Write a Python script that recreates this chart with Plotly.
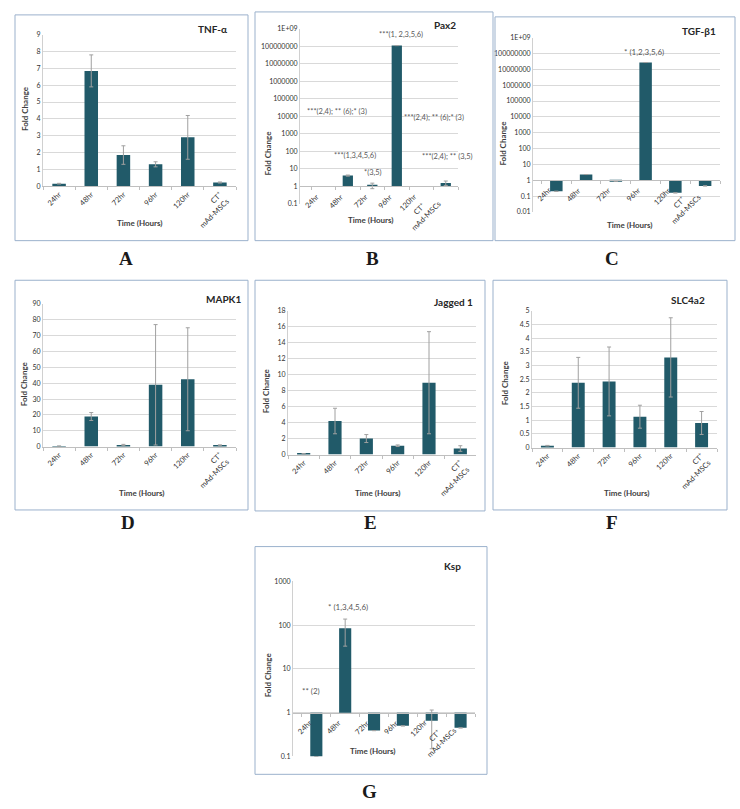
import plotly.graph_objects as go

W, H = 740, 809
BAR = "#215a69"
GRID = "#d9d9d9"
FONT = "Lato, Open Sans, sans-serif"

# categories and values
categories = ["24hr", "48hr", "72hr", "96hr", "120hr", "CT<sup>+</sup><br>mAd-MSCs"]

tnf_a = [0.15, 6.85, 1.85, 1.3, 2.9, 0.22]
tnf_a_err = [0.02, 0.95, 0.55, 0.15, 1.3, 0.03]

pax2 = [None, 4.2, 1.15, 1.1e8, None, 1.6]
pax2_err = [0, 0.3, 0.4, 0, 0, 0.45]

tgf_b1 = [0.2, 2.3, 0.85, 2.7e7, 0.16, 0.44]
tgf_b1_err = [0, 0, 0, 0, 0, 0]

mapk1 = [0.3, 19, 1.0, 39, 42.5, 0.8]
mapk1_err = [0.1, 2.5, 0.4, 38, 32.5, 0.3]

jagged1 = [0.08, 4.2, 2.0, 1.1, 9.0, 0.75]
jagged1_err = [0.03, 1.6, 0.5, 0.1, 6.4, 0.35]

slc4a2 = [0.07, 2.37, 2.42, 1.13, 3.3, 0.9]
slc4a2_err = [0.01, 0.93, 1.26, 0.42, 1.45, 0.42]

ksp = [0.1, 85, 0.39, 0.5, 0.65, 0.45]
ksp_err = [0, 52, 0, 0, 0.5, 0]

# tick labels for the log panels
pax2_ticks = ["0.1", "1", "10", "100", "1000", "10000", "100000", "1000000",
              "10000000", "100000000", "1E+09"]
tgf_ticks = ["0.01", "0.1", "1", "10", "100", "1000", "10000", "100000", "1000000",
             "10000000", "100000000", "1E+09"]
ksp_ticks = ["0.1", "1", "10", "100", "1000"]

# significance notes
pax2_notes = ["***(2,4); ** (6);* (3)", "***(1,3,4,5,6)", "*(3,5)", "***(1, 2,3,5,6)",
              "***(2,4); ** (6);* (3)", "***(2,4); ** (3,5)"]
tgf_notes = ["* (1,2,3,5,6)"]
ksp_notes = ["** (2)", "* (1,3,4,5,6)"]

# layout of each panel in pixels: box, plot area (x0, x1, ytop, ybottom)
panels = [
    dict(name="TNF-α", y=tnf_a, err=tnf_a_err, log=False, rng=[0, 9], dtick=1,
         box=(15, 10, 248, 238), plot=(43, 236, 30, 183), letter="A", lpos=(126, 256),
         tend=(229, 24), fc=(25, 105), th=(140, 220)),
    dict(name="Pax2", y=pax2, err=pax2_err, log=True, rng=[-1, 9], ticks=pax2_ticks,
         box=(255, 7, 493, 238), plot=(300, 458, 24, 201), letter="B", lpos=(372, 256),
         tend=(458, 20), fc=(268, 150), th=(371, 217)),
    dict(name="TGF-β1", y=tgf_b1, err=tgf_b1_err, log=True, rng=[-2, 9], ticks=tgf_ticks,
         box=(495, 12, 735, 238), plot=(533, 720, 33, 209), letter="C", lpos=(612, 256),
         tend=(718, 26), fc=(503, 140), th=(630, 222)),
    dict(name="MAPK1", y=mapk1, err=mapk1_err, log=False, rng=[0, 90], dtick=10,
         box=(15, 278, 248, 510), plot=(43, 236, 302, 446), letter="D", lpos=(128, 523),
         tend=(243, 297), fc=(24, 383), th=(142, 493)),
    dict(name="Jagged 1", y=jagged1, err=jagged1_err, log=False, rng=[0, 18], dtick=2,
         box=(255, 278, 485, 511), plot=(288, 476, 309, 454), letter="E", lpos=(370, 523),
         tend=(475, 300), fc=(266, 390), th=(378, 493)),
    dict(name="SLC4a2", y=slc4a2, err=slc4a2_err, log=False, rng=[0, 5], dtick=0.5,
         box=(493, 278, 727, 510), plot=(532, 717, 309, 447), letter="F", lpos=(612, 523),
         tend=(707, 298), fc=(505, 382), th=(627, 493)),
    dict(name="Ksp", y=ksp, err=ksp_err, log=True, rng=[-1, 3], ticks=ksp_ticks,
         box=(255, 547, 487, 777), plot=(293, 475, 582, 759), letter="G", lpos=(369, 794),
         tend=(463, 567), fc=(268, 677), th=(373, 753)),
]


def fx(px):
    return px / W


def fy(py):
    return 1 - py / H


def note(text, px, py, size, color="#404040", xanchor="center", **kw):
    return dict(text=text, xref="paper", yref="paper", x=fx(px), y=fy(py),
                xanchor=xanchor, yanchor="middle", showarrow=False,
                font=dict(size=size, color=color), **kw)


fig = go.Figure()
layout = {}
shapes = []
annotations = []
TICKFONT = dict(size=7.5, color="#333333")

for i, p in enumerate(panels):
    n = "" if i == 0 else str(i + 1)
    xa, ya = "x" + n, "y" + n
    x0, x1, ytop, ybot = p["plot"]
    xd = [fx(x0), fx(x1)]
    yd = [fy(ybot), fy(ytop)]

    if p["log"]:
        # excel log charts: bars start at 1
        sizes = [None if v is None else v - 1 for v in p["y"]]
        base = 1
    else:
        sizes = p["y"]
        base = None

    fig.add_trace(go.Bar(
        x=categories, y=sizes, base=base, xaxis=xa, yaxis=ya,
        marker=dict(color=BAR, line=dict(width=0)), width=0.42,
        error_y=dict(type="data", array=p["err"], color="#a0a0a0", thickness=1, width=2),
        showlegend=False, hoverinfo="skip",
    ))

    xaxis = dict(domain=xd, type="category", tickangle=-45, showline=True,
                 linecolor="#bfbfbf", ticks="outside", tickson="boundaries", ticklen=3,
                 tickcolor="#bfbfbf", tickfont=TICKFONT, showgrid=False, fixedrange=True)
    yaxis = dict(domain=yd, anchor=xa, showgrid=True, gridcolor=GRID, gridwidth=1,
                 zeroline=False, showline=True, linecolor="#d0d0d0", ticks="",
                 tickfont=dict(size=7, color="#333333"), fixedrange=True)
    if p["log"]:
        lo, hi = p["rng"]
        pos = yd[0] + (0 - lo) / (hi - lo) * (yd[1] - yd[0])
        xaxis.update(anchor="free", position=pos, showticklabels=False)
        yaxis.update(type="log", range=[lo, hi],
                     tickvals=[10 ** k for k in range(lo, hi + 1)], ticktext=p["ticks"])
        # category labels sit under the line at 1 and run over the bars
        for c in categories:
            annotations.append(dict(text=c, xref=xa, yref=ya, x=c, y=0, yshift=-3,
                                    xanchor="right", yanchor="top", textangle=-45,
                                    showarrow=False, font=TICKFONT))
    else:
        xaxis.update(anchor=ya)
        yaxis.update(range=p["rng"], tick0=0, dtick=p["dtick"])
    layout["xaxis" + n] = xaxis
    layout["yaxis" + n] = yaxis

    bx0, by0, bx1, by1 = p["box"]
    shapes.append(dict(type="rect", xref="paper", yref="paper",
                       x0=fx(bx0), x1=fx(bx1), y0=fy(by1), y1=fy(by0),
                       line=dict(color="#9bb1cc", width=1), fillcolor="rgba(0,0,0,0)"))

    lt = note("<b>%s</b>" % p["letter"], p["lpos"][0], p["lpos"][1], 19, "#1a1a1a")
    lt["font"]["family"] = "Liberation Serif, serif"
    annotations.append(lt)
    annotations.append(note("<b>%s</b>" % p["name"], p["tend"][0], p["tend"][1], 10,
                            "#262626", xanchor="right"))
    annotations.append(note("<b>Fold Change</b>", p["fc"][0], p["fc"][1], 8,
                            textangle=-90))
    annotations.append(note("<b>Time (Hours)</b>", p["th"][0], p["th"][1], 8))

# significance notes: left edge and centre line in pixels
note_spots = [
    (pax2_notes, [(305, 108), (332, 152), (362, 169), (377, 30), (402, 114), (420, 153)], 7.5),
    (tgf_notes, [(622, 47)], 8),
    (ksp_notes, [(300, 693), (326, 608)], 8),
]
for texts, spots, size in note_spots:
    for t, (px, py) in zip(texts, spots):
        annotations.append(note(t, px, py, size, "#595959", xanchor="left"))

fig.update_layout(
    width=W, height=H,
    margin=dict(l=0, r=0, t=0, b=0),
    paper_bgcolor="white", plot_bgcolor="white",
    font=dict(family=FONT),
    shapes=shapes, annotations=annotations,
    **layout
)

fig.write_html("out.html", config={"displayModeBar": False},
               post_script="document.body.style.margin='0';")
